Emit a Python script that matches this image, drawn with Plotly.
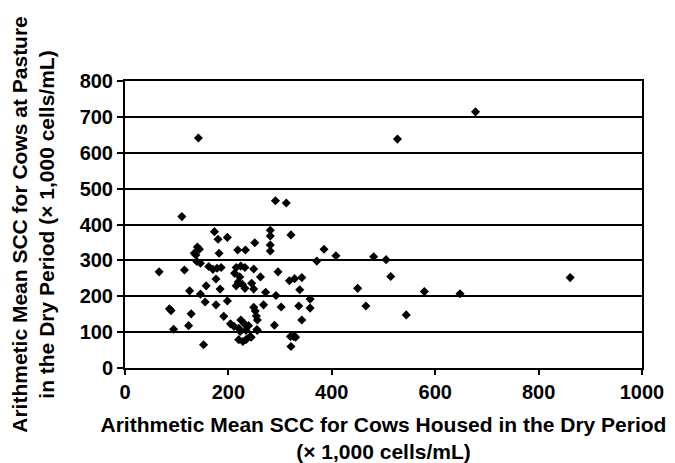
import plotly.graph_objects as go

# Arithmetic mean SCC (x 1,000 cells/mL) per herd
housed = [142, 291, 312, 110, 678, 527, 505, 514, 861, 579, 648, 544,
          281, 281, 281, 281, 321, 251, 385, 408, 371, 481, 450, 466,
          249, 262, 296, 245, 249, 318, 328, 342, 338, 272, 292, 358,
          358, 268, 302, 336, 342, 289, 249, 252, 254, 256, 242, 256,
          320, 326, 330, 321, 173, 180, 198, 140, 144, 134, 137, 139,
          146, 182, 218, 233, 66, 115, 162, 170, 178, 186, 176, 184,
          157, 146, 125, 155, 176, 198, 215, 224, 232, 212, 222, 219,
          227, 215, 232, 86, 89, 128, 94, 123, 152, 191, 204, 211,
          220, 224, 231, 239, 223, 234, 220, 228, 234, 244, 255]
pasture = [641, 466, 460, 422, 714, 638, 302, 255, 252, 213, 207, 148,
           384, 368, 343, 326, 371, 349, 331, 313, 298, 310, 222, 173,
           276, 254, 268, 236, 220, 243, 249, 252, 218, 211, 202, 192,
           167, 176, 170, 173, 134, 119, 169, 159, 145, 134, 88, 105,
           88, 88, 86, 60, 380, 359, 364, 337, 331, 320, 315, 297,
           292, 320, 329, 329, 268, 273, 283, 275, 278, 280, 248, 220,
           229, 206, 215, 184, 176, 187, 280, 284, 280, 264, 254, 240,
           233, 229, 222, 165, 160, 151, 108, 118, 65, 144, 123, 116,
           111, 134, 123, 118, 102, 105, 79, 74, 79, 86, 107]

x_ticks = [0, 200, 400, 600, 800, 1000]
y_ticks = [0, 100, 200, 300, 400, 500, 600, 700, 800]

FONT = "Liberation Sans, Arial, Helvetica, sans-serif"

fig = go.Figure(go.Scatter(
    x=housed, y=pasture, mode="markers",
    marker=dict(symbol="diamond", size=7, color="black", line=dict(width=0)),
    showlegend=False, hoverinfo="x+y"))

# page body has an 8px default margin, so the figure is sized to fit the window
fig.update_layout(
    width=667, height=455,
    margin=dict(l=117, r=33, t=73, b=95),
    paper_bgcolor="white", plot_bgcolor="white",
    font=dict(family=FONT, color="black"),
)

fig.update_xaxes(
    range=[0, 1000], tickvals=x_ticks, ticktext=[str(v) for v in x_ticks],
    showgrid=False, zeroline=False, automargin=False,
    showline=True, linecolor="black", linewidth=2, mirror=True,
    ticks="outside", ticklen=5, tickwidth=2, tickcolor="black",
    tickfont=dict(family=FONT, size=20, color="black", weight="bold"),
    title=dict(text="Arithmetic Mean SCC for Cows Housed in the Dry Period<br>(\u00d7 1,000 cells/mL)",
               font=dict(family=FONT, size=21, color="black", weight="bold"),
               standoff=15),
)
fig.update_yaxes(
    range=[0, 800], tickvals=y_ticks, ticktext=[str(v) for v in y_ticks],
    showgrid=True, gridcolor="black", gridwidth=2, zeroline=False, automargin=False,
    showline=True, linecolor="black", linewidth=2, mirror=True,
    ticks="outside", ticklen=6, tickwidth=2, tickcolor="black",
    tickfont=dict(family=FONT, size=20, color="black", weight="bold"),
    title=dict(text="Arithmetic Mean SCC for Cows at Pasture<br>in the Dry Period (\u00d7 1,000 cells/mL)",
               font=dict(family=FONT, size=21, color="black", weight="bold"),
               standoff=20),
)

fig.write_html("out.html")
